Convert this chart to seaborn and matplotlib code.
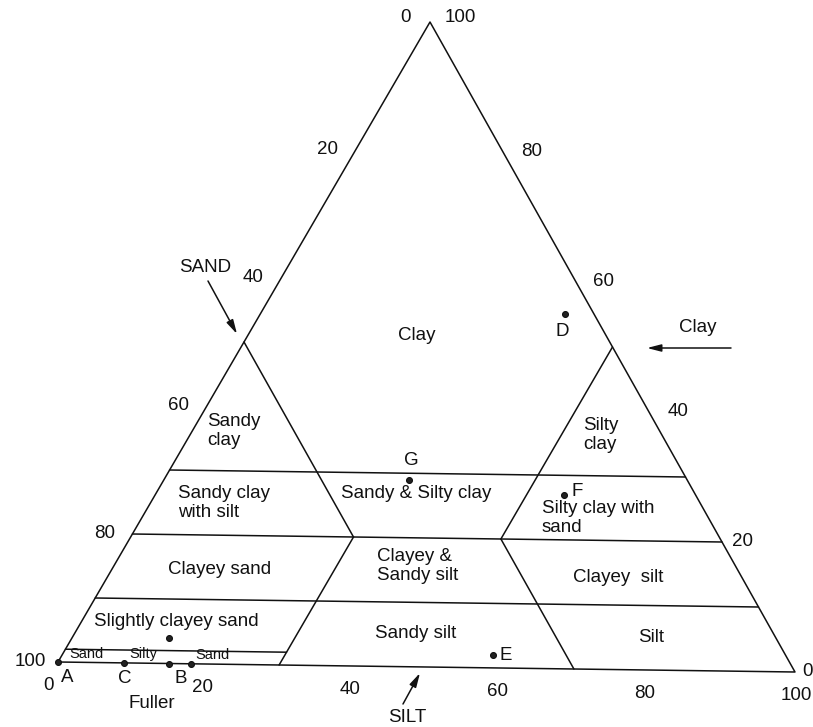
import numpy as np
import pandas as pd
import matplotlib
matplotlib.use("Agg")
import matplotlib.pyplot as plt
import seaborn as sns

# ---------------- data (ternary percentages: sand, silt, clay) ----------------
boundary_seg = (["frame"] * 4 + ["clay30"] * 2 + ["clay20"] * 2 + ["clay10"] * 2 +
                ["clay2"] * 2 + ["sand50"] * 2 + ["silt50"] * 2 + ["silt30"] * 2 +
                ["sand30"] * 2)
boundary_sand = [100, 0, 0, 100, 70, 0, 80, 0, 90, 0, 98, 68, 50, 50, 0, 30, 50, 70, 30, 30]
boundary_silt = [0, 100, 0, 0, 0, 70, 0, 80, 0, 90, 0, 30, 0, 30, 50, 50, 30, 30, 50, 70]
boundary_clay = [0, 0, 100, 0, 30, 30, 20, 20, 10, 10, 2, 2, 50, 20, 50, 20, 20, 0, 20, 0]

point_names = ["A", "C", "B", "", "", "D", "E", "F", "G"]
point_sand = [100, 91, 85, 82, 83, 4, 40, 18, 38]
point_silt = [0, 9, 15, 18, 13, 41, 58, 55, 33]
point_clay = [0, 0, 0, 0, 4, 55, 2, 27, 29]

tick_values = [0, 20, 40, 60, 80, 100]

# ---------------- layout ----------------
W, H = 813, 727
V_SAND = np.array([58.0, 662.0])   # bottom-left vertex (100 % sand)
V_SILT = np.array([795.0, 672.0])  # bottom-right vertex (100 % silt)
V_CLAY = np.array([430.0, 22.0])   # apex (100 % clay)


def tern_xy(sand, silt, clay):
    sand = np.asarray(sand, float)
    silt = np.asarray(silt, float)
    clay = np.asarray(clay, float)
    tot = sand + silt + clay
    x = (sand * V_SAND[0] + silt * V_SILT[0] + clay * V_CLAY[0]) / tot
    y = (sand * V_SAND[1] + silt * V_SILT[1] + clay * V_CLAY[1]) / tot
    return x, y


bx, by = tern_xy(boundary_sand, boundary_silt, boundary_clay)
df_lines = pd.DataFrame({"seg": boundary_seg, "x": bx, "y": by})
px, py = tern_xy(point_sand, point_silt, point_clay)
df_pts = pd.DataFrame({"name": point_names, "x": px, "y": py})

sns.set_theme(style="white")
plt.rcParams["font.family"] = ["Liberation Sans", "DejaVu Sans"]

fig = plt.figure(figsize=(W / 100, H / 100), dpi=100)
ax = fig.add_axes([0, 0, 1, 1])
ax.set_xlim(0, W)
ax.set_ylim(H, 0)
ax.axis("off")

sns.lineplot(data=df_lines, x="x", y="y", units="seg", estimator=None, sort=False,
             color="#111111", linewidth=1.1, ax=ax, legend=False)
sns.scatterplot(data=df_pts, x="x", y="y", s=18, color="#222222", edgecolor="#111111",
                linewidth=0.8, ax=ax, legend=False, zorder=5)

FS = 13.5
TXT = "#111111"

# point labels (offset from the points, pixels)
label_offsets = {"A": (9, 16), "C": (0, 16), "B": (12, 15), "D": (-3, 17),
                 "E": (13, 0), "F": (13, -3), "G": (2, -19)}
for name, x, y in zip(point_names, px, py):
    if name:
        dx, dy = label_offsets[name]
        ax.text(x + dx, y + dy, name, ha="center", va="center", fontsize=FS, color=TXT)

# axis tick labels
for v in tick_values:
    # sand scale on the left edge
    x, y = tern_xy(v, 0, 100 - v)
    dy = -5 if v == 0 else 0
    dx = -25 if v == 0 else -28
    ax.text(x + dx, y + dy, str(v), ha="center", va="center", fontsize=FS, color=TXT)
    # clay scale on the right edge
    x, y = tern_xy(0, 100 - v, v)
    rdx = {0: 12, 20: 20, 40: 29, 60: 27, 80: 29, 100: 30}[v]
    rdy = -5 if v == 100 else 0
    ax.text(x + rdx, y + rdy, str(v), ha="center", va="center", fontsize=FS, color=TXT)
    # silt scale below the base
    x, y = tern_xy(100 - v, v, 0)
    sdx = {0: -10, 100: 1}.get(v, -3)
    ax.text(x + sdx, y + 23, str(v), ha="center", va="center", fontsize=FS, color=TXT)

# region names
def region(x, y, s, ha="center", fs=FS):
    ax.text(x, y, s, ha=ha, va="center", fontsize=fs, color=TXT, linespacing=1.2)

region(417, 335, "Clay")
region(207, 431, "Sandy\nclay", ha="left")
region(583, 435, "Silty\nclay", ha="left")
region(178, 503, "Sandy clay\nwith silt", ha="left")
region(416, 493, "Sandy & Silty clay")
region(542, 518, "Silty clay with\nsand", ha="left")
region(220, 569, "Clayey sand")
region(377, 566, "Clayey &\nSandy silt", ha="left")
region(618, 577, "Clayey  silt")
region(176, 621, "Slightly clayey sand")
region(416, 634, "Sandy silt")
region(651, 637, "Silt")
region(86, 654, "Sand", fs=10.5)
region(143, 654, "Silty", fs=10.5)
region(212, 655, "Sand", fs=10.5)
region(152, 703, "Fuller")

# axis names with arrows
arrow = dict(arrowstyle="-|>,head_length=0.7,head_width=0.18", color="#111111",
             lw=1.1, shrinkA=0, shrinkB=0)
region(205, 268, "SAND")
ax.annotate("", xy=(237, 334), xytext=(208, 281), arrowprops=arrow)
region(698, 328, "Clay")
ax.annotate("", xy=(647, 348), xytext=(731, 348), arrowprops=arrow)
region(407, 718, "SILT")
ax.annotate("", xy=(420, 673), xytext=(403, 704), arrowprops=arrow)

fig.savefig("out.png", dpi=100, facecolor="white")
